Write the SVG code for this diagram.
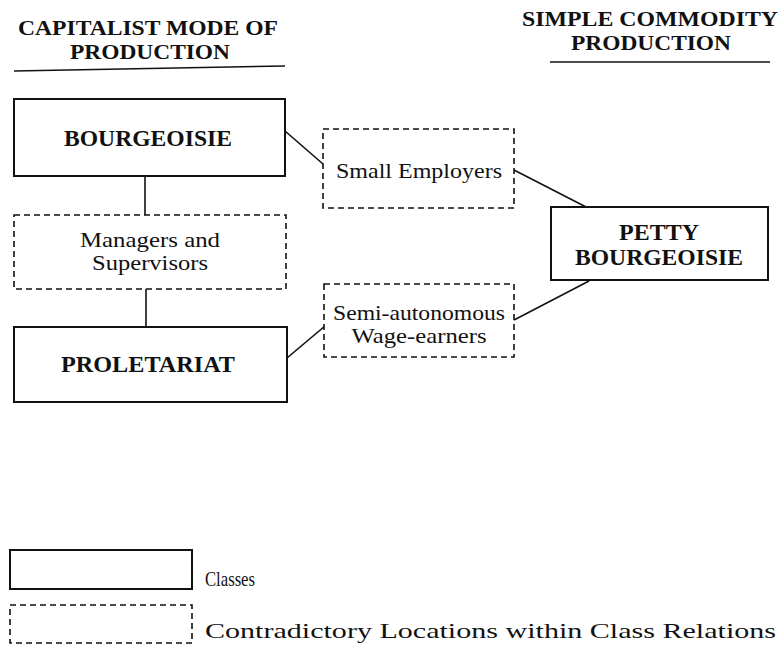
<svg xmlns="http://www.w3.org/2000/svg" width="783" height="646" viewBox="0 0 783 646">
<style>
text{font-family:"Liberation Serif","DejaVu Serif",serif;fill:#111}
.h{font-weight:bold;font-size:22px}
.c{font-weight:bold;font-size:23px}
.t{font-size:22px}
.l{font-size:22px}
.solid{fill:#fff;stroke:#111;stroke-width:2}
.dash{fill:#fff;stroke:#111;stroke-width:1.6;stroke-dasharray:6,4}
.conn line{stroke:#111;stroke-width:1.6}
</style>
<rect width="783" height="646" fill="#fff"/>
<g id="header-left">
<text class="h" x="148" y="35" text-anchor="middle" textLength="260" lengthAdjust="spacingAndGlyphs">CAPITALIST MODE OF</text>
<text class="h" x="150" y="59" text-anchor="middle" textLength="160" lengthAdjust="spacingAndGlyphs">PRODUCTION</text>
<line x1="14" y1="71" x2="285" y2="66" stroke="#111" stroke-width="1.6"/>
</g>
<g id="header-right">
<text class="h" x="650" y="26" text-anchor="middle" textLength="256" lengthAdjust="spacingAndGlyphs">SIMPLE COMMODITY</text>
<text class="h" x="651" y="50" text-anchor="middle" textLength="160" lengthAdjust="spacingAndGlyphs">PRODUCTION</text>
<line x1="550" y1="62" x2="770" y2="62" stroke="#111" stroke-width="1.6"/>
</g>
<g class="conn" id="connectors">
<line x1="145" y1="176" x2="145" y2="215"/>
<line x1="146" y1="289" x2="146" y2="326"/>
<line x1="285" y1="131" x2="323" y2="164"/>
<line x1="514" y1="170" x2="588" y2="208"/>
<line x1="589" y1="281" x2="514" y2="320"/>
<line x1="287" y1="358" x2="325" y2="326"/>
</g>
<g id="bourgeoisie">
<rect class="solid" x="14" y="99" width="271" height="77"/>
<text class="c" x="148" y="146" text-anchor="middle" textLength="168" lengthAdjust="spacingAndGlyphs">BOURGEOISIE</text>
</g>
<g id="managers">
<rect class="dash" x="14" y="215" width="272" height="74"/>
<text class="t" x="150" y="247" text-anchor="middle" textLength="140" lengthAdjust="spacingAndGlyphs">Managers and</text>
<text class="t" x="150" y="270" text-anchor="middle" textLength="116" lengthAdjust="spacingAndGlyphs">Supervisors</text>
</g>
<g id="proletariat">
<rect class="solid" x="14" y="327" width="273" height="75"/>
<text class="c" x="148" y="372" text-anchor="middle" textLength="174" lengthAdjust="spacingAndGlyphs">PROLETARIAT</text>
</g>
<g id="small-employers">
<rect class="dash" x="323" y="129" width="191" height="79"/>
<text class="t" x="419" y="178" text-anchor="middle" textLength="166" lengthAdjust="spacingAndGlyphs">Small Employers</text>
</g>
<g id="semi-autonomous">
<rect class="dash" x="324" y="284" width="190" height="73"/>
<text class="t" x="419" y="320" text-anchor="middle" textLength="172" lengthAdjust="spacingAndGlyphs">Semi-autonomous</text>
<text class="t" x="419" y="343" text-anchor="middle" textLength="135" lengthAdjust="spacingAndGlyphs">Wage-earners</text>
</g>
<g id="petty-bourgeoisie">
<rect class="solid" x="551" y="207" width="217" height="73"/>
<text class="c" x="659" y="240" text-anchor="middle" textLength="80" lengthAdjust="spacingAndGlyphs">PETTY</text>
<text class="c" x="659" y="265" text-anchor="middle" textLength="168" lengthAdjust="spacingAndGlyphs">BOURGEOISIE</text>
</g>
<g id="legend-classes">
<rect class="solid" x="10" y="550" width="182" height="39"/>
<text class="l" x="205" y="586" textLength="50" lengthAdjust="spacingAndGlyphs">Classes</text>
</g>
<g id="legend-contradictory">
<rect class="dash" x="10" y="605" width="182" height="38"/>
<text class="l" x="205" y="638" textLength="571" lengthAdjust="spacingAndGlyphs">Contradictory Locations within Class Relations</text>
</g>
</svg>
